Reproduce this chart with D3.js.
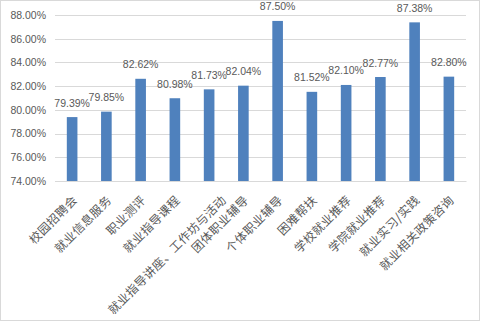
<!DOCTYPE html>
<html><head><meta charset="utf-8">
<script src="https://cdn.jsdelivr.net/npm/d3@7"></script>
<style>body{margin:0;background:#fff}svg{display:block}</style>
</head><body>
<svg id="c" width="482" height="322"></svg>
<script>
const categories = ["校园招聘会","就业信息服务","职业测评","就业指导课程","就业指导讲座、工作坊与活动","团体职业辅导","个体职业辅导","困难帮扶","学校就业推荐","学院就业推荐","就业实习/实践","就业相关政策咨询"];
const values = [79.39,79.85,82.62,80.98,81.73,82.04,87.50,81.52,82.10,82.77,87.38,82.80];
const yTicks = [74,76,78,80,82,84,86,88];

const svg = d3.select("#c");
const W = 482, H = 322;
const m = {left:55, right:16, top:15, bottom:141};
const x = d3.scaleBand().domain(categories).range([m.left, W - m.right]).paddingInner(0.69).paddingOuter(0.345);
const y = d3.scaleLinear().domain([74,88]).range([H - m.bottom, m.top]);
const textColor = "#595959";
const numFont = "'Liberation Sans', Arial, sans-serif";
const cjkFont = "'Noto Sans CJK SC', sans-serif";

svg.append("rect").attr("x",0.5).attr("y",0.5).attr("width",479).attr("height",320)
  .attr("fill","#fff").attr("stroke","#d9d9d9");

// gridlines
svg.append("g").selectAll("line").data(yTicks).join("line")
  .attr("x1", m.left).attr("x2", W - m.right)
  .attr("y1", d => Math.round(y(d)) + 0.5).attr("y2", d => Math.round(y(d)) + 0.5)
  .attr("stroke","#d9d9d9").attr("stroke-width",1);

// y axis labels
const yAxis = d3.axisLeft(y).tickValues(yTicks).tickSize(0).tickPadding(9)
  .tickFormat(d => d.toFixed(2) + "%");
const ya = svg.append("g").attr("transform",`translate(${m.left},0)`).call(yAxis);
ya.select(".domain").remove();
ya.selectAll("text").attr("fill",textColor).style("font-family",numFont).style("font-size","10.5px");

// bars
svg.append("g").selectAll("rect").data(values).join("rect")
  .attr("x",(d,i)=>x(categories[i])).attr("width",x.bandwidth())
  .attr("y",d=>y(d)).attr("height",d=>y(74)-y(d))
  .attr("fill","#4f81bd");

// data labels
svg.append("g").selectAll("text").data(values).join("text")
  .attr("x",(d,i)=>x(categories[i]) + x.bandwidth()/2)
  .attr("y",d=>y(d) - 10.5)
  .attr("text-anchor","middle")
  .attr("fill",textColor).style("font-family",numFont).style("font-size","10.5px")
  .text(d => d.toFixed(2) + "%");

// category labels
const xAxis = d3.axisBottom(x).tickSize(0).tickPadding(0);
const xa = svg.append("g").attr("transform",`translate(0,${y(74)})`).call(xAxis);
xa.select(".domain").attr("stroke","#d9d9d9");
xa.selectAll(".tick text")
  .attr("fill",textColor).style("font-family",cjkFont).style("font-size","12px")
  .style("letter-spacing","0.4px")
  .attr("text-anchor","end")
  .attr("y",0).attr("dy",0)
  .attr("transform", d => `translate(${d.length > 10 ? 18 : 6},20) rotate(-45)`);
</script>
</body></html>
